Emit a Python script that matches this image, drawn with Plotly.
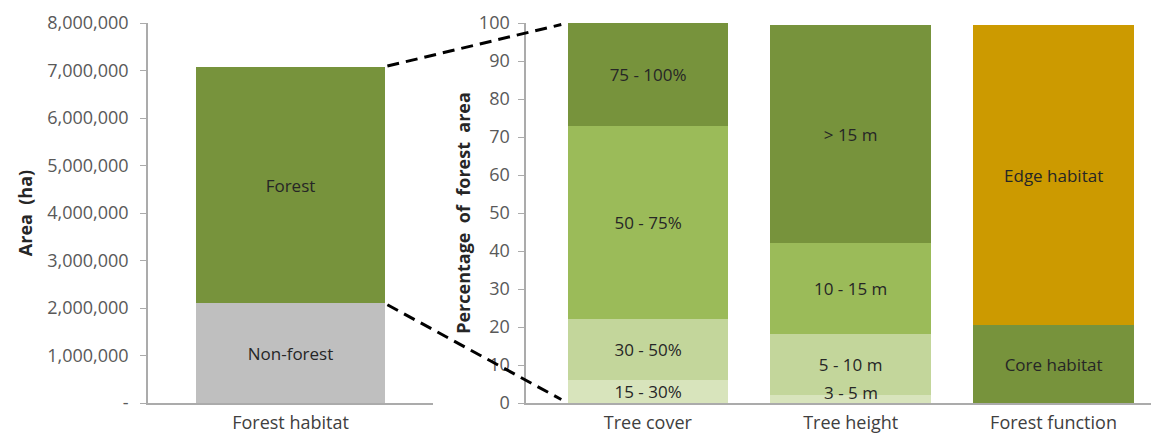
import plotly.graph_objects as go

# ---------------- data ----------------
left_category = ["Forest habitat"]
left_labels = ["Non-forest", "Forest"]
left_values = [2_100_000, 4_980_000]

right_categories = ["Tree cover", "Tree height", "Forest function"]
tree_cover_labels = ["15 - 30%", "30 - 50%", "50 - 75%", "75 - 100%"]
tree_cover_values = [6.0, 16.1, 50.8, 27.1]
tree_height_labels = ["3 - 5 m", "5 - 10 m", "10 - 15 m", "> 15 m"]
tree_height_values = [2.0, 16.2, 23.8, 57.5]
forest_function_labels = ["Core habitat", "Edge habitat"]
forest_function_values = [20.4, 79.1]

left_ticks = [0, 1_000_000, 2_000_000, 3_000_000, 4_000_000, 5_000_000, 6_000_000, 7_000_000, 8_000_000]
left_ticktext = ["-", "1,000,000", "2,000,000", "3,000,000", "4,000,000", "5,000,000", "6,000,000", "7,000,000", "8,000,000"]
right_ticks = [0, 10, 20, 30, 40, 50, 60, 70, 80, 90, 100]

# ---------------- style ----------------
DARK = "#77933C"
MID = "#9BBB59"
LIGHT = "#C3D69B"
LIGHTEST = "#D8E4BC"
GREY = "#BFBFBF"
GOLD = "#CC9A00"
FONT = "Open Sans"
TXT = "#262626"
AXC = "#ABABAB"

left_colors = [GREY, DARK]
green_ramp = [LIGHTEST, LIGHT, MID, DARK]
ff_colors = [DARK, GOLD]

LEFT_DOM = [0.0, 0.282]
RIGHT_DOM = [0.374, 1.0]
LEFT_XR = [-0.5, 0.5]
RIGHT_XR = [-0.6, 2.52]
LEFT_YR = [0, 8_000_000]
RIGHT_YR = [0, 100]
LEFT_W = 0.66
RIGHT_W = 0.79
SMALL = 4.0  # segments thinner than this get their label as an annotation at the base

fig = go.Figure()
small_labels = []

def stack(x, values, labels, colors, xa, ya, width, small_thr=None):
    base = 0
    for v, lab, c in zip(values, labels, colors):
        is_small = small_thr is not None and v < small_thr
        fig.add_trace(go.Bar(
            x=[x], y=[v], text=["" if is_small else lab], textposition="inside",
            insidetextanchor="middle", constraintext="none", textangle=0,
            textfont=dict(family=FONT, size=17, color=TXT),
            marker=dict(color=c, line=dict(width=0)),
            width=width, xaxis=xa, yaxis=ya, showlegend=False, hoverinfo="skip"))
        if is_small:
            small_labels.append((x, base, lab, xa, ya))
        base += v

stack(left_category[0], left_values, left_labels, left_colors, "x", "y", LEFT_W)
stack(right_categories[0], tree_cover_values, tree_cover_labels, green_ramp, "x2", "y2", RIGHT_W, SMALL)
stack(right_categories[1], tree_height_values, tree_height_labels, green_ramp, "x2", "y2", RIGHT_W, SMALL)
stack(right_categories[2], forest_function_values, forest_function_labels, ff_colors, "x2", "y2", RIGHT_W, SMALL)

for x, base, lab, xa, ya in small_labels:
    fig.add_annotation(x=x, y=base, xref=xa, yref=ya, text=lab, showarrow=False,
                       yanchor="bottom", borderpad=0, yshift=-2,
                       font=dict(family=FONT, size=17, color=TXT))

# dashed connector lines (paper coords derived from data & axis ranges)
def px(v, dom, rng):
    return dom[0] + (v - rng[0]) / (rng[1] - rng[0]) * (dom[1] - dom[0])

def py(v, rng):
    return (v - rng[0]) / (rng[1] - rng[0])

lx = px(LEFT_W / 2, LEFT_DOM, LEFT_XR)
rx = px(-RIGHT_W / 2, RIGHT_DOM, RIGHT_XR)
pairs = [
    (py(sum(left_values), LEFT_YR), py(100, RIGHT_YR)),
    (py(left_values[0], LEFT_YR), py(0, RIGHT_YR)),
]
for ly, ry in pairs:
    t0, t1 = 0.015, 0.965
    fig.add_shape(type="line", xref="paper", yref="paper",
                  x0=lx + (rx - lx) * t0, y0=ly + (ry - ly) * t0,
                  x1=lx + (rx - lx) * t1, y1=ly + (ry - ly) * t1,
                  line=dict(color="black", width=3, dash="12px,7px"))

axis_common = dict(showline=True, linecolor=AXC, linewidth=1.5, showgrid=False, zeroline=False)
nb = "\u00a0"
fig.update_layout(
    width=1151, height=426,
    margin=dict(l=140, r=0, t=15, b=31),
    paper_bgcolor="white", plot_bgcolor="white",
    barmode="stack", bargap=0,
    font=dict(family=FONT, color="#595959", size=15),
    xaxis=dict(domain=LEFT_DOM, range=LEFT_XR, type="category", anchor="y",
               tickfont=dict(size=18, color="#404040"), ticks="", ticklabelstandoff=3, **axis_common),
    yaxis=dict(domain=[0, 1], range=LEFT_YR, tickvals=left_ticks, ticktext=left_ticktext,
               ticks="outside", ticklen=6, tickcolor=AXC, anchor="x", ticklabelstandoff=8,
               tickfont=dict(size=18, color="#595959"),
               title=dict(text="<b>Area" + nb + nb + "(ha)</b>", font=dict(size=18, color=TXT), standoff=10),
               **axis_common),
    xaxis2=dict(domain=RIGHT_DOM, range=RIGHT_XR, type="category", anchor="y2",
                tickfont=dict(size=18, color="#404040"), ticks="", ticklabelstandoff=3, **axis_common),
    yaxis2=dict(domain=[0, 1], range=RIGHT_YR, tickvals=right_ticks, anchor="x2",
                ticks="outside", ticklen=6, tickcolor=AXC, ticklabelstandoff=5,
                tickfont=dict(size=18, color="#595959"),
                title=dict(text="<b>Percentage" + nb + nb + "of" + nb + nb + "forest" + nb + nb + "area</b>",
                           font=dict(size=18, color=TXT), standoff=4),
                **axis_common),
)

fig.write_html("out.html")
